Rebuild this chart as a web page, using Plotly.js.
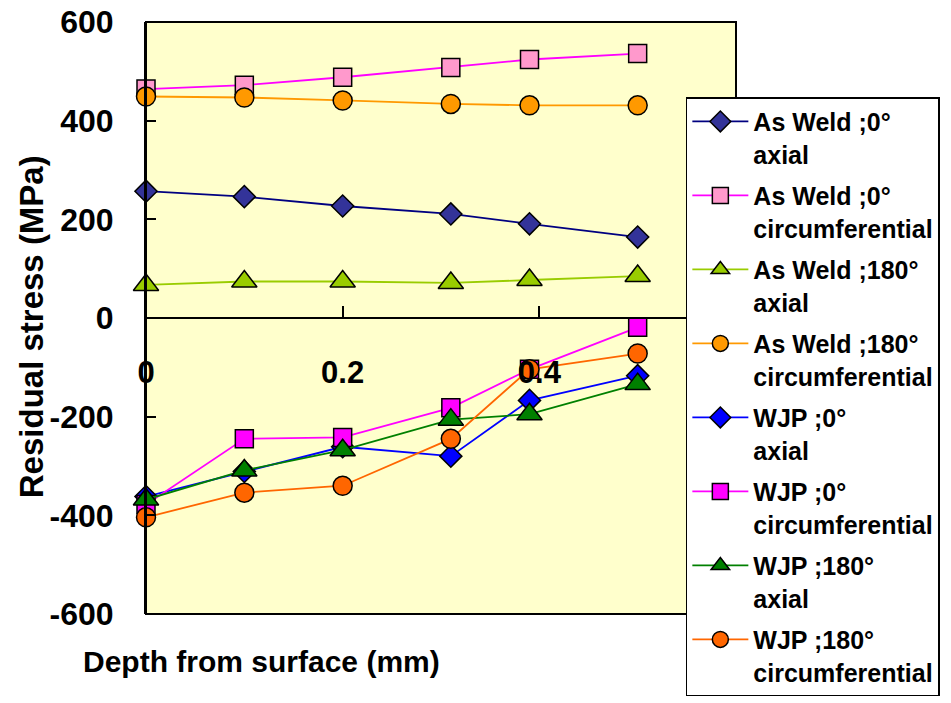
<!DOCTYPE html>
<html><head><meta charset="utf-8">
<script src="https://cdn.plot.ly/plotly-3.0.1.min.js"></script>
<style>html,body{margin:0;padding:0;background:#fff}</style>
</head><body>
<div id="chart" style="width:951px;height:703px"></div>
<script>
const depth = [0, 0.1, 0.2, 0.31, 0.39, 0.5];

const asWeld0Axial   = [257, 246, 227, 211, 191, 164];
const asWeld0Circ    = [464, 472, 488, 508, 524, 536];
const asWeld180Axial = [67, 74, 74, 71, 77, 85];
const asWeld180Circ  = [449, 447, 441, 434, 431, 431];
const wjp0Axial      = [-362, -311, -261, -280, -167, -117];
const wjp0Circ       = [-378, -245, -242, -182, -104, -19];
const wjp180Axial    = [-368, -309, -268, -206, -195, -134];
const wjp180Circ     = [-404, -354, -340, -245, -104, -72];

const seriesNames = [
  'As Weld ;0°<br>axial',
  'As Weld ;0°<br>circumferential',
  'As Weld ;180°<br>axial',
  'As Weld ;180°<br>circumferential',
  'WJP ;0°<br>axial',
  'WJP ;0°<br>circumferential',
  'WJP ;180°<br>axial',
  'WJP ;180°<br>circumferential'
];
const seriesValues = [asWeld0Axial, asWeld0Circ, asWeld180Axial, asWeld180Circ,
                      wjp0Axial, wjp0Circ, wjp180Axial, wjp180Circ];

const xTickVals = [0, 0.2, 0.4];
const xTickText = ['0', '0.2', '0.4'];
const yTickVals = [-600, -400, -200, 0, 200, 400, 600];
const yTickText = ['-600', '-400', '-200', '0', '200', '400', '600'];

const styles = [
  {line: '#000080', fill: '#333399', symbol: 'diamond', size: 17},
  {line: '#FF00FF', fill: '#FF99CC', symbol: 'square', size: 18},
  {line: '#99CC00', fill: '#99CC00', symbol: 'triangle-up', size: 22},
  {line: '#FF9900', fill: '#FF9900', symbol: 'circle', size: 19},
  {line: '#0000FF', fill: '#0000FF', symbol: 'diamond', size: 17},
  {line: '#FF00FF', fill: '#FF00FF', symbol: 'square', size: 18},
  {line: '#008000', fill: '#008000', symbol: 'triangle-up', size: 22},
  {line: '#FF6600', fill: '#FF6600', symbol: 'circle', size: 19}
];

const FONT = 'Liberation Sans, Arial, sans-serif';

const traces = seriesValues.map((vals, i) => ({
  type: 'scatter',
  mode: 'lines+markers',
  x: depth,
  y: vals,
  name: seriesNames[i],
  legendgroup: 'g' + i,
  cliponaxis: false,
  line: {color: styles[i].line, width: 1.8},
  marker: {symbol: styles[i].symbol, size: styles[i].size, color: styles[i].fill,
           line: {color: '#000000', width: 1.5}}
}));

const layout = {
  width: 951, height: 703,
  margin: {l: 146, r: 215, t: 22, b: 89, autoexpand: false},
  paper_bgcolor: '#ffffff',
  plot_bgcolor: '#FFFFCC',
  showlegend: true,
  xaxis: {
    range: [0, 0.6],
    anchor: 'free', position: 0.5,
    showline: true, linecolor: '#000', linewidth: 1.5,
    ticks: 'inside', ticklen: 11, tickwidth: 1.5, tickcolor: '#000',
    tickvals: xTickVals, ticktext: xTickText,
    tickfont: {family: FONT, size: 31, color: '#000', weight: 'bold'},
    ticklabelstandoff: 27,
    showgrid: false, zeroline: false
  },
  yaxis: {
    range: [-600, 600],
    showline: true, linecolor: '#000', linewidth: 2,
    ticks: 'inside', ticklen: 10, tickwidth: 1.5, tickcolor: '#000',
    tickvals: yTickVals, ticktext: yTickText,
    tickfont: {family: FONT, size: 32, color: '#000', weight: 'bold'},
    ticklabelstandoff: 24,
    showgrid: false, zeroline: false
  },
  shapes: [{
    type: 'rect', xref: 'x domain', yref: 'y domain', x0: 0, x1: 1, y0: 0, y1: 1,
    line: {color: '#000', width: 2}, fillcolor: 'rgba(0,0,0,0)', layer: 'above'
  }],
  annotations: [
    {text: 'Depth from surface (mm)', xref: 'paper', yref: 'paper', x: 0.195, y: -0.081,
     xanchor: 'center', yanchor: 'middle', showarrow: false,
     font: {family: FONT, size: 30, color: '#000', weight: 'bold'}},
    {text: 'Residual stress (MPa)', xref: 'paper', yref: 'paper', x: -0.195, y: 0.486,
     xanchor: 'center', yanchor: 'middle', showarrow: false, textangle: -90,
     font: {family: FONT, size: 33, color: '#000', weight: 'bold'}}
  ],
  legend: {
    x: 0.915, y: 0.873, xanchor: 'left', yanchor: 'top',
    bgcolor: '#ffffff', bordercolor: '#000', borderwidth: 1.5,
    font: {family: FONT, size: 25, color: '#000', weight: 'bold'},
    tracegroupgap: 6, valign: 'top', itemwidth: 56, maxheight: 690
  }
};

Plotly.newPlot('chart', traces, layout, {displayModeBar: false, responsive: false});
</script>
</body></html>
